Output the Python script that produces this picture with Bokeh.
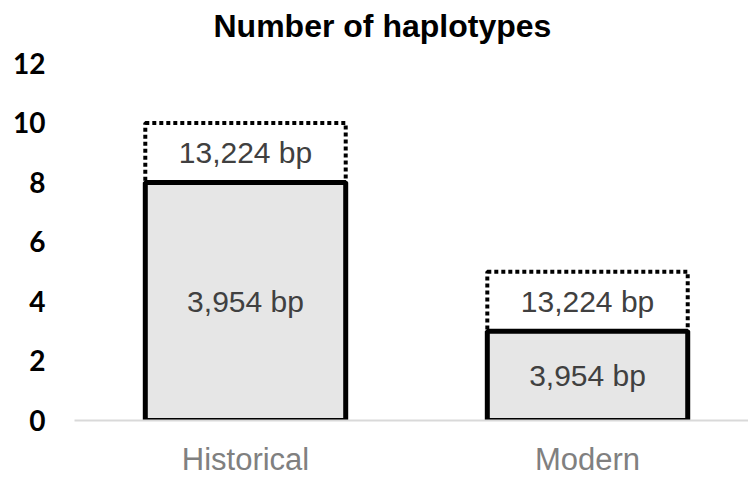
from bokeh.plotting import figure
from bokeh.models import Range1d, FixedTicker, ColumnDataSource, Title
from bokeh.core.properties import value
from bokeh.embed import file_html
from bokeh.resources import INLINE

# ---- data ----
categories = ["Historical", "Modern"]
haplotypes_3954 = [8, 3]      # number of haplotypes, 3,954 bp fragment
haplotypes_13224 = [10, 5]    # number of haplotypes, 13,224 bp fragment
label_3954 = "3,954 bp"
label_13224 = "13,224 bp"
y_ticks = [0, 2, 4, 6, 8, 10, 12]

x_pos = [i + 0.5 for i in range(len(categories))]

src = ColumnDataSource(dict(
    x=x_pos,
    short=haplotypes_3954,
    long=haplotypes_13224,
    zero=[0] * len(categories),
    short_mid=[s / 2 for s in haplotypes_3954],
    long_mid=[(s + l) / 2 for s, l in zip(haplotypes_3954, haplotypes_13224)],
    short_lab=[label_3954] * len(categories),
    long_lab=[label_13224] * len(categories),
))

p = figure(width=748, height=480, output_backend="svg", toolbar_location=None,
           x_range=Range1d(0, 1.9707), y_range=Range1d(0, 12.5),
           min_border_left=74, min_border_right=0, min_border_top=48,
           min_border_bottom=60)
p.outline_line_color = None
p.xgrid.visible = False
p.ygrid.visible = False

t = Title(text="Number of haplotypes", align="left", offset=139,
          text_font="Liberation Sans", text_font_size="32px",
          text_font_style="bold", text_color="#000000")
p.title = t

bar_w = 0.586
p.vbar(x="x", bottom="short", top="long", width=bar_w, source=src,
       fill_color="white", line_color="black", line_width=4, line_dash="4 3")
p.vbar(x="x", bottom="zero", top="short", width=bar_w, source=src,
       fill_color="#e6e6e6", line_color="black", line_width=5)

common = dict(text_align="center", text_baseline="middle",
              text_font=value("Liberation Sans"), text_font_size="30px",
              text_color="#404040")
p.text(x="x", y="short_mid", text="short_lab", source=src, **common)
p.text(x="x", y="long_mid", text="long_lab", source=src, **common)

# y axis
p.yaxis.ticker = FixedTicker(ticks=y_ticks)
p.yaxis.axis_line_color = None
p.yaxis.major_tick_line_color = None
p.yaxis.minor_tick_line_color = None
p.yaxis.major_label_standoff = 23
p.yaxis.major_label_text_font = "Lato"
p.yaxis.major_label_text_font_style = "bold"
p.yaxis.major_label_text_font_size = "28px"
p.yaxis.major_label_text_color = "#000000"

# x axis
p.xaxis.ticker = FixedTicker(ticks=x_pos)
p.xaxis.major_label_overrides = {x: c for x, c in zip(x_pos, categories)}
p.xaxis.axis_line_color = "#d9d9d9"
p.xaxis.axis_line_width = 2
p.xaxis.major_tick_line_color = None
p.xaxis.minor_tick_line_color = None
p.xaxis.major_label_standoff = 15
p.xaxis.major_label_text_font = "Liberation Sans"
p.xaxis.major_label_text_font_size = "31px"
p.xaxis.major_label_text_color = "#808080"

open("out.html", "w").write(file_html(p, INLINE))
